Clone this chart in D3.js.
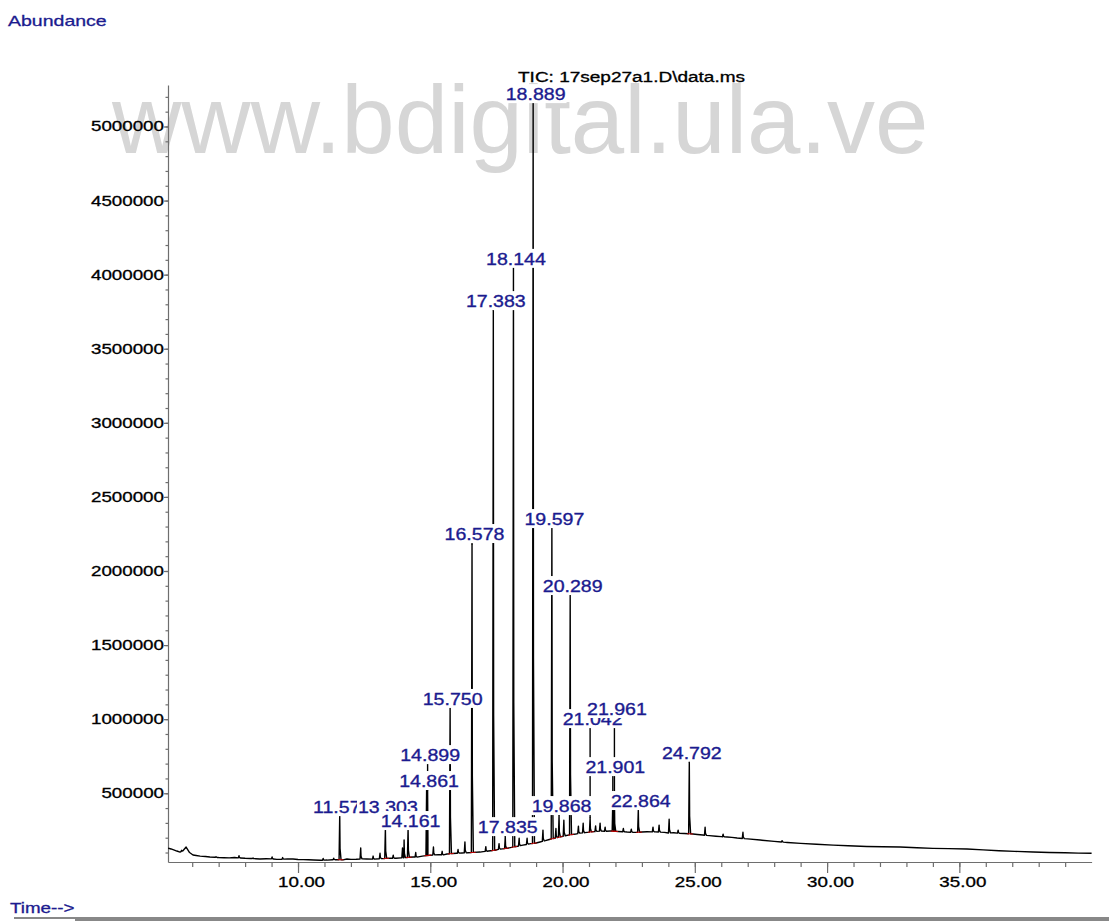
<!DOCTYPE html>
<html>
<head>
<meta charset="utf-8">
<script src="https://d3js.org/d3.v7.min.js"></script>
<style>
    body { margin: 0; background: #ffffff; }
    svg { display: block; font-family: "Liberation Sans", Arial, sans-serif; }
    .axis path, .axis line { stroke: #6e6e6e; stroke-width: 1.2; }
    .axis text { fill: #000; stroke: #000; stroke-width: 0.3; font-size: 14px; font-family: "Liberation Sans", Arial, sans-serif; }
</style>
</head>
<body>
<div id="chart"></div>
<script>
    // TIC baseline (minutes, abundance)
    var baseTimes = [5.09, 5.2, 5.3, 5.42, 5.54, 5.65, 5.77, 5.9, 6.03, 6.15, 6.3, 6.5, 6.67, 6.85, 7.0, 7.2, 7.4,
        7.6, 7.81, 8.0, 8.2, 8.4, 8.56, 8.8, 9.0, 9.2, 9.4, 9.6, 9.81, 10.0, 10.2, 10.4, 10.6, 10.85, 11.1, 11.3,
        11.5, 11.7, 11.85, 12.0, 12.2, 12.4, 12.6, 12.85, 13.1, 13.3, 13.5, 13.7, 13.9, 14.1, 14.35, 14.5, 14.7,
        15.0, 15.3, 15.5, 15.63, 15.85, 16.0, 16.2, 16.4, 16.65, 16.88, 17.0, 17.2, 17.45, 17.6, 17.9, 18.13,
        18.3, 18.5, 18.8, 19.0, 19.15, 19.35, 19.5, 19.7, 19.91, 20.1, 20.3, 20.5, 20.66, 20.85, 21.0, 21.2,
        21.42, 21.6, 21.8, 22.1, 22.3, 22.44, 22.6, 22.8, 23.0, 23.2, 23.5, 23.69, 23.85, 24.0, 24.2, 24.4, 24.6,
        24.93, 25.1, 25.3, 25.55, 25.8, 26.0, 26.22, 26.4, 26.6, 27.0, 27.47, 28.0, 28.5, 29.0, 29.6,
        30.23, 30.8, 31.5, 32.1, 32.76, 33.4, 34.0, 34.6, 35.29, 35.9, 36.5, 37.1, 37.79, 38.4, 39.0, 39.5, 40.0];
    var baseValues = [130000, 124000, 118000, 110000, 103000, 112000, 137000, 100000, 83000, 80000, 76000,
        73000, 70000, 68000, 66000, 65000, 64000, 66000, 63000, 61000, 60000, 58000, 56000, 58000, 57000, 54000,
        55000, 57000, 56000, 53000, 52000, 51000, 50000, 48000, 49000, 51000, 52000, 50000, 56000, 54000, 55000,
        57000, 56000, 55000, 58000, 60000, 62000, 61000, 64000, 66000, 70000, 69000, 76000, 82000, 86000,
        84000, 90000, 93000, 95000, 97000, 98000, 101000, 103000, 106000, 110000, 115000, 122000, 128000,
        137000, 142000, 150000, 160000, 164000, 171000, 180000, 188000, 196000, 205000, 213000, 220000, 225000,
        231000, 234000, 238000, 241000, 245000, 243000, 245000, 242000, 240000, 238000, 237000, 236000, 238000,
        240000, 239000, 238000, 236000, 232000, 233000, 230000, 228000, 225000, 222000, 218000, 214000, 210000,
        207000, 205000, 202000, 198000, 192000, 184000, 175000, 168000, 162000, 156000, 150000,
        146000, 141000, 139000, 137000, 132000, 128000, 126000, 124000, 118000, 112000, 108000, 103000, 100000,
        98000, 96000, 95000];

    // labelled peaks: retention time, apex abundance, height of the label
    var peakNames = ["11.577", "13.303", "14.161", "14.861", "14.899", "15.750", "16.578", "17.383", "17.835",
        "18.144", "18.889", "19.597", "19.868", "20.289", "21.042", "21.901", "21.961", "22.864", "24.792"];
    var peakTimes = [11.577, 13.303, 14.161, 14.861, 14.899, 15.750, 16.578, 17.383, 17.835,
        18.144, 18.889, 19.597, 19.868, 20.289, 21.042, 21.901, 21.961, 22.864, 24.792];
    var peakValues = [353000, 258000, 258000, 515000, 515000, 1075000, 2175000, 3755000, 205000,
        4046000, 5158000, 2290000, 346000, 1838000, 333000, 454000, 454000, 387000, 706000];
    var labelValues = [366000, 366000, 272000, 542000, 717000, 1096000, 2209000, 3781000, 231000,
        4066000, 5178000, 2310000, 373000, 1858000, 960000, 636000, 1028000, 407000, 733000];

    // small unlabelled peaks
    var minorTimes = [5.6, 6.9, 7.77, 8.3, 9.02, 9.42, 10.95, 11.35, 12.37, 12.84, 13.1, 13.6, 13.95, 14.01,
        14.45, 15.12, 15.45, 16.05, 16.31, 17.1, 17.6, 18.36, 18.66, 19.26, 19.75, 20.05, 20.6, 20.78, 21.25,
        21.42, 21.61, 22.3, 22.6, 23.42, 23.65, 24.03, 24.37, 25.39, 26.07, 26.82, 28.3];
    var minorValues = [115000, 72000, 78000, 63000, 70000, 66000, 60000, 62000, 130000, 76000, 95000, 82000,
        130000, 184000, 100000, 137000, 108000, 120000, 171000, 140000, 160000, 196000, 196000, 251000, 262000,
        318000, 278000, 298000, 280000, 298000, 271000, 262000, 258000, 271000, 285000, 325000, 251000, 271000,
        224000, 237000, 180000];

    var xTicks = [10, 15, 20, 25, 30, 35];
    var yTicks = [500000, 1000000, 1500000, 2000000, 2500000, 3000000, 3500000, 4000000, 4500000, 5000000];

    var width = 1109, height = 921;
    var svg = d3.select("#chart").append("svg")
        .attr("width", width)
        .attr("height", height);

    var x = d3.scaleLinear().domain([5.085, 40.0]).range([168, 1091.6]);
    var y = d3.scaleLinear().domain([36000, 5280000]).range([862, 85]);
    var baseAt = d3.scaleLinear().domain(baseTimes).range(baseValues);

    // stretch text horizontally like the original bitmap font
    function stretch(sel, f) {
        sel.each(function() {
            var w = this.getComputedTextLength();
            d3.select(this).attr("textLength", w * f).attr("lengthAdjust", "spacingAndGlyphs");
        });
    }

    // watermark
    svg.append("text")
        .attr("x", 112).attr("y", 153)
        .attr("font-size", 96)
        .attr("fill", "#d6d6d6")
        .text("www.bdigital.ula.ve");

    // axes
    var gx = svg.append("g").attr("class", "axis").attr("transform", "translate(0,862)");
    gx.call(d3.axisBottom(x).tickValues(d3.range(6, 40)).tickSize(5).tickSizeOuter(0).tickFormat(""));
    var gxMajor = svg.append("g").attr("class", "axis").attr("transform", "translate(0,862)")
        .call(d3.axisBottom(x).tickValues(xTicks).tickSize(11).tickPadding(4).tickFormat(d3.format(".2f")));
    gxMajor.select(".domain").remove();
    gxMajor.selectAll("text").attr("dx", 3).call(stretch, 1.34);

    var gy = svg.append("g").attr("class", "axis").attr("transform", "translate(168,0)");
    gy.call(d3.axisLeft(y).tickValues(d3.range(100000, 5280000, 100000)).tickSize(2.5).tickSizeOuter(0).tickFormat(""));
    var gyMajor = svg.append("g").attr("class", "axis").attr("transform", "translate(168,0)")
        .call(d3.axisLeft(y).tickValues(yTicks).tickSize(4).tickPadding(0).tickFormat(d3.format("d")));
    gyMajor.select(".domain").remove();
    gyMajor.selectAll("text").call(stretch, 1.34);

    // build the trace: baseline samples plus narrow peaks
    var allPeaks = peakTimes.map(function(t, i) { return [t, peakValues[i]]; })
        .concat(minorTimes.map(function(t, i) { return [t, minorValues[i]]; }));
    var pts = baseTimes.map(function(t, i) { return [t, baseValues[i]]; })
        .filter(function(p) {
            return !allPeaks.some(function(k) { return p[0] > k[0] - 0.03 && p[0] < k[0] + 0.06; });
        });
    allPeaks.forEach(function(k) {
        var t = k[0];
        pts.push([t - 0.025, baseAt(t - 0.025)]);
        pts.push([t, k[1]]);
        pts.push([t + 0.012, baseAt(t) + (k[1] - baseAt(t)) * 0.25]);
        pts.push([t + 0.05, baseAt(t + 0.05)]);
    });
    pts.sort(function(a, b) { return a[0] - b[0]; });

    var line = d3.line().x(function(d) { return x(d[0]); }).y(function(d) { return y(d[1]); });
    svg.append("path")
        .datum(pts)
        .attr("d", line)
        .attr("fill", "none")
        .attr("stroke", "#000")
        .attr("stroke-width", 1.4)
        .attr("stroke-linejoin", "round");

    // integration baselines
    peakTimes.forEach(function(t) {
        svg.append("line")
            .attr("x1", x(t - 0.08)).attr("x2", x(t + 0.14))
            .attr("y1", y(baseAt(t - 0.08))).attr("y2", y(baseAt(t + 0.14)))
            .attr("stroke", "#c00000").attr("stroke-width", 1);
    });

    // leader lines from apex to label
    peakTimes.forEach(function(t, i) {
        if (labelValues[i] > peakValues[i]) {
            svg.append("line")
                .attr("x1", x(t)).attr("x2", x(t))
                .attr("y1", y(peakValues[i])).attr("y2", y(labelValues[i]))
                .attr("stroke", "#000").attr("stroke-width", 1.4);
        }
    });

    // peak labels with white boxes
    peakTimes.forEach(function(t, i) {
        var cx = x(t) + 2.5, by = y(labelValues[i]);
        var g = svg.append("g");
        var box = g.append("rect").attr("fill", "#fff");
        var txt = g.append("text")
            .attr("x", cx).attr("y", by)
            .attr("text-anchor", "middle")
            .attr("font-size", 17)
            .attr("fill", "#1b1b8f")
            .attr("stroke", "#1b1b8f").attr("stroke-width", 0.35)
            .text(peakNames[i]);
        txt.call(stretch, 1.15);
        var w = +txt.attr("textLength");
        box.attr("x", cx - w / 2 - 1).attr("y", by - 16).attr("width", w + 2).attr("height", 19);
    });

    // title and axis captions
    svg.append("text").attr("x", 518).attr("y", 82).attr("font-size", 14).attr("fill", "#000")
        .attr("stroke", "#000").attr("stroke-width", 0.3)
        .text("TIC: 17sep27a1.D\\data.ms").call(stretch, 1.357);
    svg.append("text").attr("x", 8).attr("y", 26).attr("font-size", 15).attr("fill", "#1b1b8f")
        .attr("stroke", "#1b1b8f").attr("stroke-width", 0.3)
        .text("Abundance").call(stretch, 1.3);
    svg.append("text").attr("x", 10).attr("y", 913).attr("font-size", 14).attr("fill", "#1b1b8f")
        .attr("stroke", "#1b1b8f").attr("stroke-width", 0.3)
        .text("Time-->").call(stretch, 1.34);

    svg.append("rect").attr("x", 14).attr("y", 917).attr("width", 61).attr("height", 2).attr("fill", "#888");
    svg.append("rect").attr("x", 75).attr("y", 917).attr("width", width - 75).attr("height", 4).attr("fill", "#888");
</script>
</body>
</html>
